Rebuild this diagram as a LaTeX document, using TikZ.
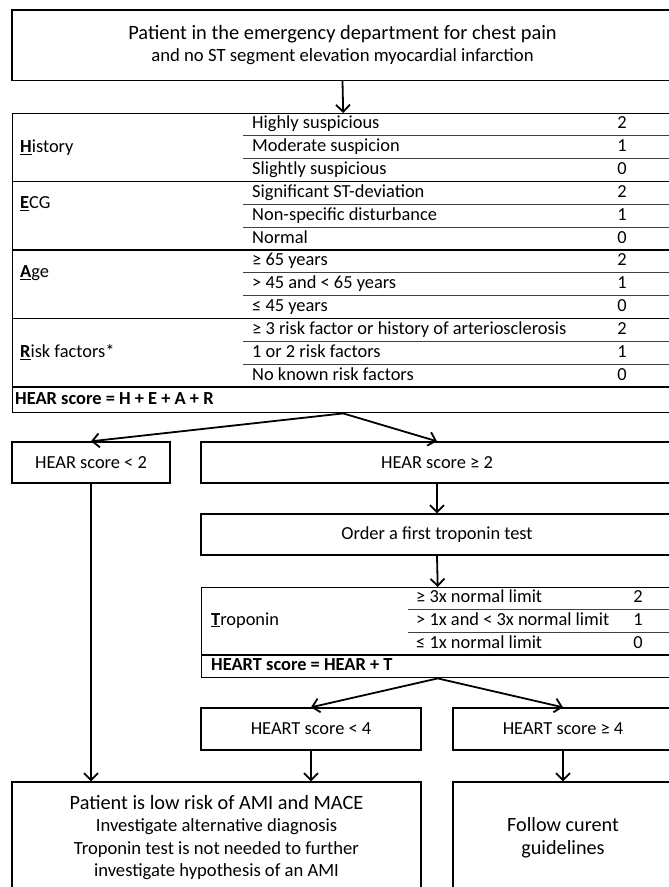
\documentclass[tikz,border=0pt]{standalone}
\usepackage{fontspec}
\setmainfont{Carlito}
\usetikzlibrary{arrows.meta}

\begin{document}
\begin{tikzpicture}[x=1pt,y=-1pt,
    box/.style={draw,line width=1.4pt,inner sep=0pt,align=center,font=\fontsize{18.4}{22}\selectfont},
    grpline/.style={line width=1.6pt},
    subline/.style={line width=0.8pt,black!75},
    flow/.style={line width=1.8pt,-{Straight Barb[length=7pt,width=14pt,line width=1.8pt]}},
    cell/.style={anchor=west,inner sep=0pt,text height=12pt,text depth=3pt,font=\fontsize{18.4}{20}\selectfont},
    pts/.style={inner sep=0pt,text height=12pt,text depth=3pt,font=\fontsize{18.4}{20}\selectfont}]
                    \useasboundingbox (0,0) rectangle (669,887);
                    \clip (0,0) rectangle (669,887);

                    % top box
                    \node[box,minimum width=661,minimum height=70.5,font=\fontsize{18.7}{22.5}\selectfont] (patient) at (342.5,45.25)
                        {{\fontsize{20.4}{22.5}\selectfont Patient in the emergency department for chest pain}\\
                         and no ST segment elevation myocardial infarction};

                    % HEAR table
                    \node[box,anchor=north west,minimum width=661,minimum height=299] (hear) at (12,113) {};
                    \draw[subline] (243,135.8) -- (673,135.8);
                    \draw[subline] (243,158.7) -- (673,158.7);
                    \draw[grpline] (12,181.5) -- (673,181.5);
                    \draw[subline] (243,204.3) -- (673,204.3);
                    \draw[subline] (243,227.2) -- (673,227.2);
                    \draw[grpline] (12,250) -- (673,250);
                    \draw[subline] (243,272.8) -- (673,272.8);
                    \draw[subline] (243,295.7) -- (673,295.7);
                    \draw[grpline] (12,318.5) -- (673,318.5);
                    \draw[subline] (243,341.3) -- (673,341.3);
                    \draw[subline] (243,364.2) -- (673,364.2);
                    \draw[grpline] (12,387) -- (673,387);

                    \node[cell] (hist) at (20,148) {\underline{\textbf{H}}istory};
                    \node[cell] (ecg) at (20,204) {\underline{\textbf{E}}CG};
                    \node[cell] (age) at (20,273) {\underline{\textbf{A}}ge};
                    \node[cell] (risk) at (20,352.8) {\underline{\textbf{R}}isk factors*};

                    \node[cell] (h2) at (252,124.4) {Highly suspicious};
                    \node[cell] (h1) at (252,147.2) {Moderate suspicion};
                    \node[cell] (h0) at (252,170.1) {Slightly suspicious};
                    \node[cell] (e2) at (252,192.9) {Significant ST-deviation};
                    \node[cell] (e1) at (252,215.7) {Non-specific disturbance};
                    \node[cell] (e0) at (252,238.6) {Normal};
                    \node[cell] (a2) at (252,261.4) {≥ 65 years};
                    \node[cell] (a1) at (252,284.3) {> 45 and < 65 years};
                    \node[cell] (a0) at (252,307.1) {≤ 45 years};
                    \node[cell] (r2) at (252,329.9) {≥ 3 risk factor or history of arteriosclerosis};
                    \node[cell] (r1) at (252,352.8) {1 or 2 risk factors};
                    \node[cell] (r0) at (252,375.6) {No known risk factors};

                    \node[pts] at (622,124.4) {2};
                    \node[pts] at (622,147.2) {1};
                    \node[pts] at (622,170.1) {0};
                    \node[pts] at (622,192.9) {2};
                    \node[pts] at (622,215.7) {1};
                    \node[pts] at (622,238.6) {0};
                    \node[pts] at (622,261.4) {2};
                    \node[pts] at (622,284.3) {1};
                    \node[pts] at (622,307.1) {0};
                    \node[pts] at (622,329.9) {2};
                    \node[pts] at (622,352.8) {1};
                    \node[pts] at (622,375.6) {0};

                    \node[cell] (hearsum) at (15,399.5) {\textbf{HEAR score = H + E + A + R}};

                    % branches
                    \node[box,minimum width=158,minimum height=41] (low) at (91,462.5) {HEAR score < 2};
                    \node[box,minimum width=472,minimum height=41] (high) at (437,462.5) {HEAR score ≥ 2};
                    \node[box,minimum width=472,minimum height=41] (order) at (437,534.5) {Order a first troponin test};

                    % troponin table
                    \node[box,anchor=north west,minimum width=472,minimum height=90] (trop) at (201,587) {};
                    \draw[subline] (408,609) -- (673,609);
                    \draw[subline] (408,632) -- (673,632);
                    \draw[grpline] (201,655) -- (673,655);
                    \node[cell] (tlab) at (211,620.5) {\underline{\textbf{T}}roponin};
                    \node[cell] (t2) at (416,598) {≥ 3x normal limit};
                    \node[cell] (t1) at (416,620.5) {> 1x and < 3x normal limit};
                    \node[cell] (t0) at (416,643.5) {≤ 1x normal limit};
                    \node[pts] at (638,598) {2};
                    \node[pts] at (638,620.5) {1};
                    \node[pts] at (638,643.5) {0};
                    \node[cell] (heartsum) at (211,666) {\textbf{HEART score = HEAR + T}};

                    \node[box,minimum width=220,minimum height=42] (lowT) at (311,729) {HEART score < 4};
                    \node[box,minimum width=220,minimum height=42] (highT) at (563,729) {HEART score ≥ 4};

                    % outcomes
                    \node[box,minimum width=409,minimum height=111,font=\fontsize{18.6}{22.3}\selectfont] (lowrisk) at (216.5,837.5)
                        {{\fontsize{20.3}{22.3}\selectfont Patient is low risk of AMI and MACE}\\
                         Investigate alternative diagnosis\\
                         Troponin test is not needed to further\\
                         investigate hypothesis of an AMI};
                    \node[box,minimum width=220,minimum height=111,font=\fontsize{20.2}{23}\selectfont] (guide) at (563,837.5)
                        {Follow curent\\guidelines};

                    % arrows
                    \draw[flow] (patient.south) -- (hear.north);
                    \draw[flow] (hear.south) -- (low.north);
                    \draw[flow] (hear.south) -- (high.north);
                    \draw[flow] (high.south) -- (order.north);
                    \draw[flow] (order.south) -- (trop.north);
                    \draw[flow] (trop.south) -- (lowT.north);
                    \draw[flow] (trop.south) -- (highT.north);
                    \draw[flow] (low.south) -- (low.south |- lowrisk.north);
                    \draw[flow] (lowT.south) -- (lowT.south |- lowrisk.north);
                    \draw[flow] (highT.south) -- (guide.north);
                \end{tikzpicture}
\end{document}
